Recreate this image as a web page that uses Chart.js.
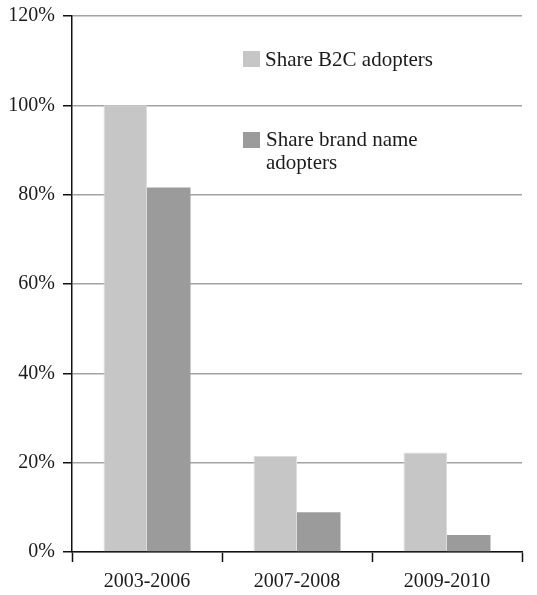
<!DOCTYPE html>
<html>
<head>
<meta charset="utf-8">
<script src="https://cdn.jsdelivr.net/npm/chart.js@4/dist/chart.umd.min.js"></script>
<style>
  html, body { margin: 0; padding: 0; background: #ffffff; }
  #wrap { width: 537px; height: 595px; position: relative; }
</style>
</head>
<body>
<div id="wrap"><canvas id="chart"></canvas></div>
<script>
// Periods and adopter shares (percent)
const periods = ['2003-2006', '2007-2008', '2009-2010'];
const shareB2C = [100, 21.5, 22.3];
const shareBrandName = [81.6, 8.9, 3.8];
const seriesNames = ['Share B2C adopters', 'Share brand name adopters'];
const yTicks = [0, 20, 40, 60, 80, 100, 120];

const FONT = '"Liberation Serif", "Times New Roman", serif';
const TEXT = '#1c1c1c';

// Legend drawn inside the plot area, text wrapped to a fixed width
const insideLegend = {
  id: 'insideLegend',
  afterDraw(chart) {
    const ctx = chart.ctx;
    const items = [
      { box: [243, 51], text: [265, 60] },
      { box: [243, 132], text: [266, 140] }
    ];
    const maxWidth = 180;
    const lineHeight = 23;
    ctx.save();
    ctx.font = '21px ' + FONT;
    ctx.textBaseline = 'middle';
    ctx.textAlign = 'left';
    chart.data.datasets.forEach((ds, i) => {
      const it = items[i];
      ctx.fillStyle = ds.backgroundColor;
      ctx.fillRect(it.box[0], it.box[1], 17, 16);
      const words = ds.label.split(' ');
      const lines = [];
      let cur = '';
      words.forEach(w => {
        const test = cur ? cur + ' ' + w : w;
        if (ctx.measureText(test).width > maxWidth && cur) {
          lines.push(cur);
          cur = w;
        } else {
          cur = test;
        }
      });
      lines.push(cur);
      ctx.fillStyle = TEXT;
      lines.forEach((ln, k) => ctx.fillText(ln, it.text[0], it.text[1] + k * lineHeight));
    });
    ctx.restore();
  }
};

new Chart(document.getElementById('chart'), {
  type: 'bar',
  data: {
    labels: periods,
    datasets: [
      {
        label: seriesNames[0],
        data: shareB2C,
        backgroundColor: '#c5c6c5',
        borderColor: '#dcdcdc',
        borderWidth: { top: 1, left: 1, right: 1, bottom: 0 },
        barPercentage: 1.0,
        categoryPercentage: 0.58
      },
      {
        label: seriesNames[1],
        data: shareBrandName,
        backgroundColor: '#9a9b9a',
        borderWidth: 0,
        barPercentage: 1.0,
        categoryPercentage: 0.58
      }
    ]
  },
  options: {
    responsive: true,
    maintainAspectRatio: false,
    animation: false,
    layout: { padding: { top: 16, right: 15, left: 0, bottom: 0 } },
    plugins: {
      legend: { display: false },
      tooltip: { enabled: false }
    },
    scales: {
      x: {
        offset: true,
        grid: {
          offset: true,
          drawOnChartArea: false,
          drawTicks: true,
          tickLength: 10,
          tickColor: '#111111',
          tickWidth: 1.5
        },
        border: { display: true, color: '#111111', width: 1.5 },
        ticks: {
          color: TEXT,
          font: { family: FONT, size: 20 },
          padding: 8,
          maxRotation: 0
        },
        afterFit(scale) {
          scale.height = 43;
          scale.paddingLeft = 0;
          scale.paddingRight = 0;
        }
      },
      y: {
        min: 0,
        max: 120,
        afterBuildTicks(scale) { scale.ticks = yTicks.map(v => ({ value: v })); },
        grid: {
          color: '#a3a3a3',
          lineWidth: 1.5,
          drawTicks: true,
          tickLength: 9,
          tickColor: '#111111',
          tickWidth: 1.5
        },
        border: { display: true, color: '#111111', width: 1.5 },
        ticks: {
          color: TEXT,
          font: { family: FONT, size: 20 },
          padding: 8,
          callback: v => v + '%'
        },
        afterFit(scale) {
          scale.width = 72;
          scale.paddingTop = 0;
          scale.paddingBottom = 0;
        }
      }
    }
  },
  plugins: [insideLegend]
});
</script>
</body>
</html>
